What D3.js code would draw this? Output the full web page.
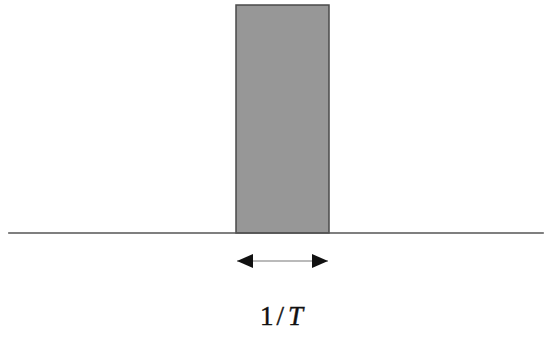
<!DOCTYPE html>
<html>
<head>
<meta charset="utf-8">
<script src="https://cdn.jsdelivr.net/npm/d3@7"></script>
<style>
  body { margin: 0; background: #fff; }
</style>
</head>
<body>
<script>
// pulse spectrum: one band of width 1/T centred on zero
var axisExtent = [-2.95, 2.81];
var pulseEdges = [-0.5, 0.5];
var pulseHeight = [1];
var widthLabel = ["1", "/", "T"];

var width = 544, height = 341;

var svg = d3.select("body").append("svg")
    .attr("width", width)
    .attr("height", height);

var x = d3.scaleLinear().domain([-3, 3]).range([3.5, 561.5]);
var y = d3.scaleLinear().domain([0, 1]).range([233, 5]);

// arrow heads
var defs = svg.append("defs");
["start", "end"].forEach(function (k) {
    defs.append("marker")
        .attr("id", "head-" + k)
        .attr("viewBox", "0 0 16 14")
        .attr("refX", k == "end" ? 16 : 0)
        .attr("refY", 7)
        .attr("markerWidth", 16)
        .attr("markerHeight", 14)
        .attr("markerUnits", "userSpaceOnUse")
        .attr("orient", "auto")
      .append("path")
        .attr("d", k == "end" ? "M0,0L16,7L0,14Z" : "M16,0L0,7L16,14Z")
        .attr("fill", "#111");
});

// the bar
svg.selectAll("rect.pulse").data(pulseHeight)
  .enter().append("rect")
    .attr("class", "pulse")
    .attr("x", x(pulseEdges[0]))
    .attr("y", function (d) { return y(d); })
    .attr("width", x(pulseEdges[1]) - x(pulseEdges[0]))
    .attr("height", function (d) { return y(0) - y(d); })
    .attr("fill", "#979797")
    .attr("stroke", "#4a4a4a")
    .attr("stroke-width", 1.5);

// baseline
svg.append("line")
    .attr("x1", x(axisExtent[0]))
    .attr("x2", x(axisExtent[1]))
    .attr("y1", y(0))
    .attr("y2", y(0))
    .attr("stroke", "#555")
    .attr("stroke-width", 1.5);

// width arrow
svg.append("line")
    .attr("x1", x(pulseEdges[0]) + 1)
    .attr("x2", x(pulseEdges[1]) - 1)
    .attr("y1", 261)
    .attr("y2", 261)
    .attr("stroke", "#777")
    .attr("stroke-width", 1.2)
    .attr("marker-start", "url(#head-start)")
    .attr("marker-end", "url(#head-end)");

// label
var label = svg.append("text")
    .attr("x", x(0) - 1)
    .attr("y", 325)
    .attr("text-anchor", "middle")
    .style("font-family", "'Liberation Serif', 'Times New Roman', serif")
    .style("font-size", "27px")
    .attr("fill", "#111")
    .attr("stroke", "#111")
    .attr("stroke-width", 0.4);
label.append("tspan").text(widthLabel[0]);
label.append("tspan").attr("dx", 3).text(widthLabel[1]);
label.append("tspan").attr("dx", 4).style("font-style", "italic").text(widthLabel[2]);
</script>
</body>
</html>
